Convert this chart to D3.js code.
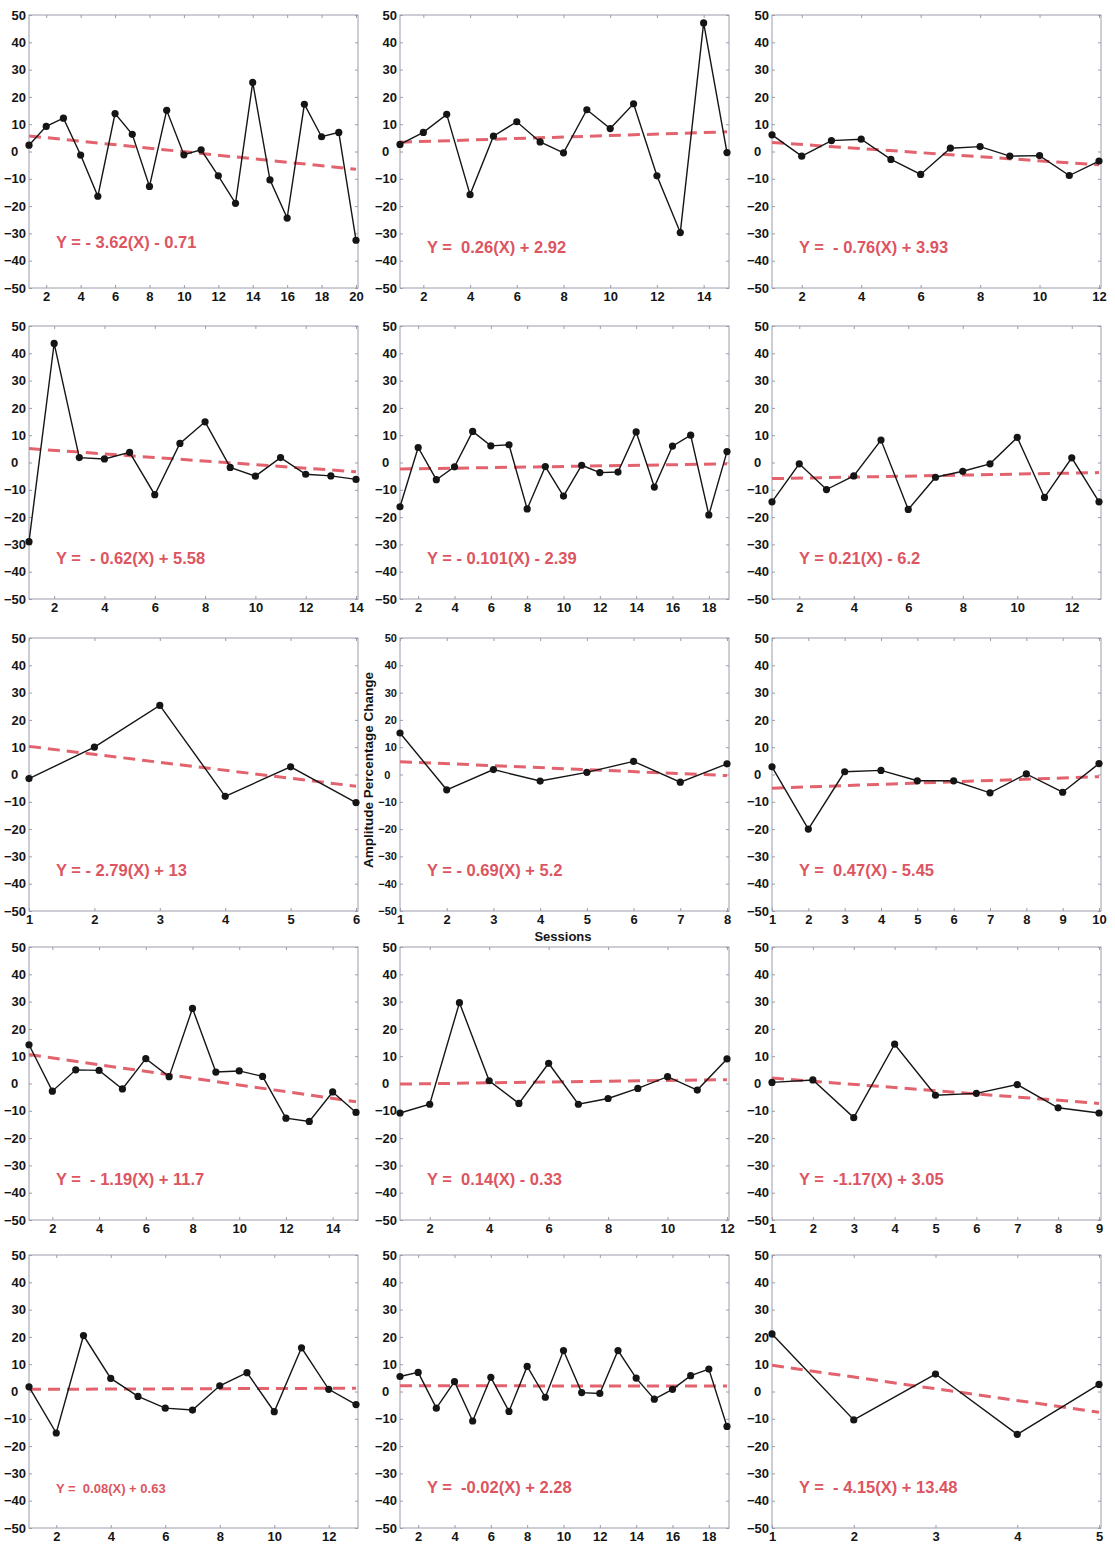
<!DOCTYPE html>
<html>
<head>
<meta charset="utf-8">
<script src="https://cdn.jsdelivr.net/npm/d3@7/dist/d3.min.js"></script>
<style>
  body { margin: 0; background: #fff; }
  svg text { font-family: Arial, "Liberation Sans", sans-serif; font-weight: bold; }
</style>
</head>
<body>
<svg id="chart" width="1115" height="1546"></svg>
<script>
// Amplitude percentage change per session, one series per subject
const series01 = [2.3, 9.2, 12.2, -1.3, -16.4, 13.9, 6.3, -12.8, 15.1, -1.2, 0.6, -8.9, -19, 25.3, -10.4, -24.4, 17.3, 5.4, 7, -32.5];
const series02 = [2.6, 7, 13.6, -15.8, 5.6, 10.9, 3.5, -0.5, 15.3, 8.4, 17.5, -8.9, -29.7, 47.1, -0.4];
const series03 = [6.1, -1.7, 4, 4.5, -2.9, -8.4, 1.2, 1.8, -1.7, -1.5, -8.8, -3.5];
const series04 = [-29, 43.6, 1.8, 1.3, 3.7, -11.8, 7, 14.9, -1.8, -5, 1.8, -4.3, -4.9, -6.2];
const series05 = [-16.2, 5.5, -6.3, -1.6, 11.4, 6.1, 6.5, -17, -1.5, -12.3, -1, -3.7, -3.5, 11.2, -9, 6, 10, -19.2, 4];
const series06 = [-14.4, -0.5, -9.9, -4.9, 8.2, -17.2, -5.4, -3.2, -0.5, 9.2, -12.8, 1.7, -14.4];
const series07 = [-1.5, 10, 25.3, -8, 2.8, -10.3];
const series08 = [15.2, -5.6, 1.8, -2.4, 0.8, 4.8, -2.8, 3.9];
const series09 = [2.8, -20, 1, 1.5, -2.3, -2.3, -6.7, 0.2, -6.5, 4];
const series10 = [14.2, -2.8, 5, 4.8, -2, 9.1, 2.5, 27.5, 4.2, 4.6, 2.6, -12.7, -13.9, -3.1, -10.6];
const series11 = [-10.8, -7.6, 29.6, 1, -7.3, 7.4, -7.6, -5.5, -1.8, 2.5, -2.4, 9];
const series12 = [0.4, 1.3, -12.5, 14.4, -4.3, -3.6, -0.4, -8.9, -10.8];
const series13 = [1.7, -15.2, 20.5, 4.8, -1.8, -6.1, -6.8, 2.1, 6.9, -7.4, 16, 0.8, -4.8];
const series14 = [5.5, 7, -6.1, 3.6, -10.8, 5.2, -7.3, 9.2, -2.1, 15, -0.4, -0.7, 15, 4.9, -2.8, 0.8, 5.8, 8.2, -12.8];
const series15 = [21.1, -10.4, 6.4, -15.7, 2.6];

const allSeries = [series01, series02, series03, series04, series05, series06, series07, series08,
                   series09, series10, series11, series12, series13, series14, series15];

// Fitted trend line, value at the first and at the last session
const trendStart = [5.7, 3.4, 3.3, 5.1, -2.4, -5.9, 10.3, 4.7, -5.0, 10.6, -0.2, 2.0, 0.8, 2.1, 9.6];
const trendEnd   = [-6.5, 7.2, -4.9, -3.4, -0.5, -3.7, -4.3, -0.4, -0.8, -6.7, 1.4, -7.3, 1.2, 2.0, -7.6];

// Regression equations printed in each panel
const equations = [
  "Y = - 3.62(X) - 0.71", "Y =  0.26(X) + 2.92", "Y =  - 0.76(X) + 3.93",
  "Y =  - 0.62(X) + 5.58", "Y = - 0.101(X) - 2.39", "Y = 0.21(X) - 6.2",
  "Y = - 2.79(X) + 13", "Y = - 0.69(X) + 5.2", "Y =  0.47(X) - 5.45",
  "Y =  - 1.19(X) + 11.7", "Y =  0.14(X) - 0.33", "Y =  -1.17(X) + 3.05",
  "Y =  0.08(X) + 0.63", "Y =  -0.02(X) + 2.28", "Y =  - 4.15(X) + 13.48"
];

// Tick labels
const yTickValues = [-50, -40, -30, -20, -10, 0, 10, 20, 30, 40, 50];
const evens = n => d3.range(2, n + 1, 2);
const xTickSets = [
  evens(20), evens(15), evens(12),
  evens(14), evens(19), evens(13),
  d3.range(1, 7), d3.range(1, 9), d3.range(1, 11),
  evens(15), evens(12), d3.range(1, 10),
  evens(13), evens(19), d3.range(1, 6)
];

const yAxisTitle = "Amplitude Percentage Change";
const xAxisTitle = "Sessions";

// ---- layout ----
const colLeft = [29, 400, 772];
const rowTop = [15, 326, 638, 947, 1255];
const panelW = 329, panelH = 273;
const frameColor = "#9c9cab";
const lineColor = "#151515";
const trendColor = "#e2636e";
const eqColor = "#dc5561";
const labelColor = "#151515";

const svg = d3.select("#chart");

allSeries.forEach((values, i) => {
  const col = i % 3, row = Math.floor(i / 3);
  const n = values.length;
  const g = svg.append("g").attr("transform", `translate(${colLeft[col]},${rowTop[row]})`);

  const x = d3.scaleLinear().domain([1, n]).range([0, panelW - 2]);
  const y = d3.scaleLinear().domain([-50, 50]).range([panelH, 0]);

  // frame
  g.append("rect")
    .attr("width", panelW).attr("height", panelH)
    .attr("fill", "none").attr("stroke", frameColor).attr("stroke-width", 1);

  const labelSize = (i === 7) ? 11 : 13;

  // left axis with labels, ticks pointing inward
  const yAx = g.append("g")
    .call(d3.axisLeft(y).tickValues(yTickValues).tickSize(-3).tickPadding(3));
  yAx.select(".domain").remove();
  yAx.selectAll("line").attr("stroke", frameColor);
  yAx.selectAll("text")
    .attr("fill", labelColor).style("font-size", labelSize + "px")
    .attr("dx", d => d === 0 ? (-0.6 * labelSize) : 0);

  // right axis ticks only
  const yAxR = g.append("g").attr("transform", `translate(${panelW},0)`)
    .call(d3.axisRight(y).tickValues(yTickValues).tickSize(-3).tickFormat(""));
  yAxR.select(".domain").remove();
  yAxR.selectAll("line").attr("stroke", frameColor);

  // bottom axis with labels
  const xAx = g.append("g").attr("transform", `translate(0,${panelH})`)
    .call(d3.axisBottom(x).tickValues(xTickSets[i]).tickSize(-3).tickPadding(4).tickFormat(d3.format("d")));
  xAx.select(".domain").remove();
  xAx.selectAll("line").attr("stroke", frameColor);
  xAx.selectAll("text").attr("fill", labelColor).style("font-size", "13px");

  // top axis ticks only
  const xAxT = g.append("g")
    .call(d3.axisTop(x).tickValues(xTickSets[i]).tickSize(-3).tickFormat(""));
  xAxT.select(".domain").remove();
  xAxT.selectAll("line").attr("stroke", frameColor);

  // dashed trend line
  const trend = [[1, trendStart[i]], [n, trendEnd[i]]];
  g.append("path")
    .attr("d", d3.line().x(d => x(d[0])).y(d => y(d[1]))(trend))
    .attr("fill", "none").attr("stroke", trendColor)
    .attr("stroke-width", 3).attr("stroke-dasharray", "12,7");

  // data line and markers
  const pts = values.map((v, k) => [k + 1, v]);
  g.append("path")
    .attr("d", d3.line().x(d => x(d[0])).y(d => y(d[1]))(pts))
    .attr("fill", "none").attr("stroke", lineColor).attr("stroke-width", 1.4);
  g.selectAll("circle").data(pts).join("circle")
    .attr("cx", d => x(d[0])).attr("cy", d => y(d[1]))
    .attr("r", 3.6).attr("fill", lineColor);

  // equation
  g.append("text")
    .attr("x", 27).attr("y", i === 0 ? 233 : 238)
    .attr("fill", eqColor)
    .style("font-size", i === 12 ? "13px" : "16.5px")
    .style("white-space", "pre")
    .text(equations[i]);
});

// shared axis titles
svg.append("text")
  .attr("transform", "translate(373,770) rotate(-90)")
  .attr("text-anchor", "middle").attr("fill", labelColor)
  .style("font-size", "13.5px")
  .text(yAxisTitle);

svg.append("text")
  .attr("x", 563).attr("y", 941)
  .attr("text-anchor", "middle").attr("fill", labelColor)
  .style("font-size", "13px")
  .text(xAxisTitle);
</script>
</body>
</html>
